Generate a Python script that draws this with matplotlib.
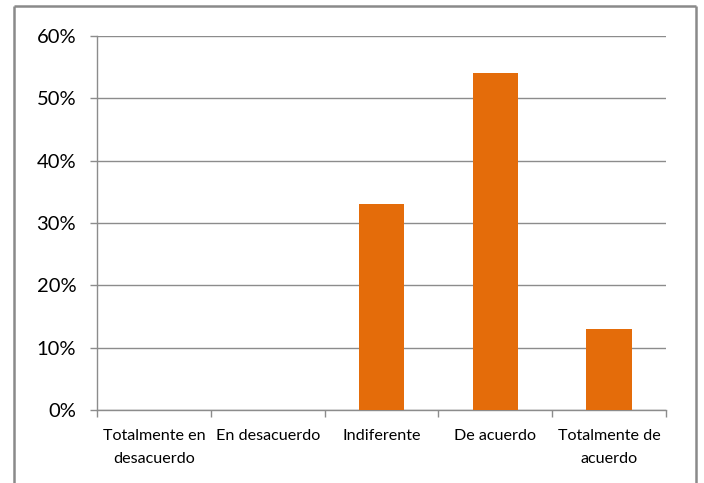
import matplotlib
matplotlib.use("Agg")
import matplotlib.pyplot as plt
from matplotlib.lines import Line2D
from matplotlib.ticker import FuncFormatter, MultipleLocator

categories = ["Totalmente en\ndesacuerdo", "En desacuerdo", "Indiferente",
              "De acuerdo", "Totalmente de\nacuerdo"]
values = [0.0, 0.0, 0.33, 0.54, 0.13]

bar_color = "#E46C0A"
grid_color = "#8C8C8C"

plt.rcParams["font.family"] = ["Lato", "DejaVu Sans"]

fig = plt.figure(figsize=(7.04, 4.83), dpi=100)
fig.patch.set_facecolor("white")

# chart frame (open at the bottom)
fw, fh = 704, 483
x0, x1, y0 = 13.5 / fw, 695.5 / fw, 1 - 5.5 / fh
for xs, ys in [([x0, x0], [0, y0]), ([x0, x1], [y0, y0]), ([x1, x1], [y0, 0])]:
    fig.add_artist(Line2D(xs, ys, transform=fig.transFigure,
                          color="#8A8A8A", lw=1.8, solid_capstyle="butt"))

ax = fig.add_axes([97 / fw, 1 - 410 / fh, (666 - 97) / fw, (410 - 36) / fh])
pos = list(range(len(categories)))
ax.bar(pos, values, width=0.4, color=bar_color, zorder=3)

ax.set_xlim(-0.5, len(categories) - 0.5)
ax.set_ylim(0, 0.6)
ax.yaxis.set_major_locator(MultipleLocator(0.1))
ax.yaxis.set_major_formatter(FuncFormatter(lambda v, p: f"{v * 100:.0f}%"))
ax.grid(axis="y", color=grid_color, lw=1.0, zorder=0)

for side in ["top", "right"]:
    ax.spines[side].set_visible(False)
for side in ["left", "bottom"]:
    ax.spines[side].set_color(grid_color)
    ax.spines[side].set_linewidth(1.0)

ax.set_xticks(pos)
ax.set_xticklabels(categories, fontsize=11.6, linespacing=1.75)
ax.set_xticks([p - 0.5 for p in pos] + [len(categories) - 0.5], minor=True)
ax.tick_params(axis="x", which="major", length=0, pad=14)
ax.tick_params(axis="x", which="minor", length=5, color=grid_color, width=1.0)
ax.tick_params(axis="y", length=5, color=grid_color, width=1.0,
               labelsize=14.5, pad=10)

fig.savefig("out.png", dpi=100, facecolor="white")
